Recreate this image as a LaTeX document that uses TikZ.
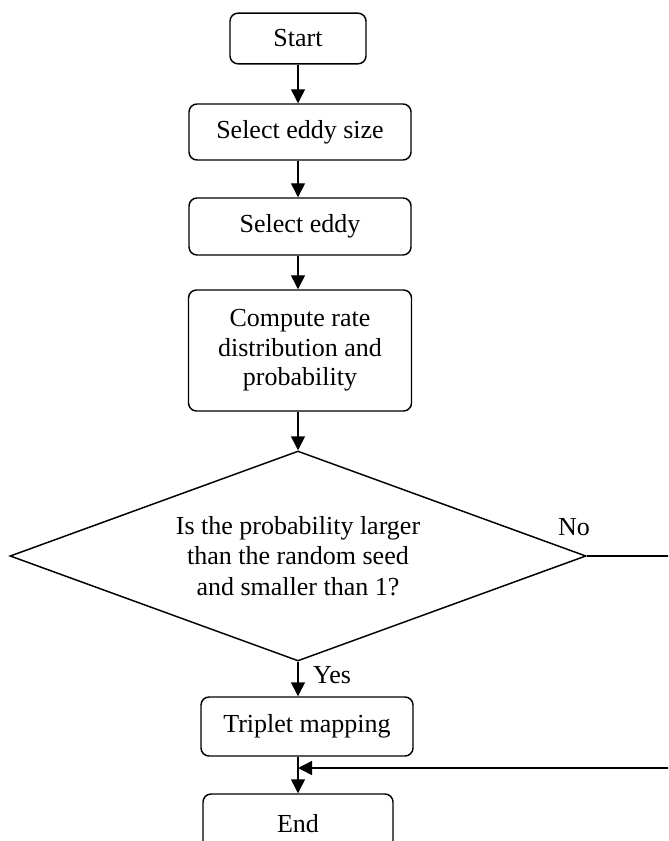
\documentclass[tikz,border=0pt]{standalone}
\usepackage{fontspec}
\setmainfont{Liberation Serif}
\usetikzlibrary{shapes.geometric,arrows.meta}
\begin{document}
\begin{tikzpicture}
[x=0.75pt, y=-0.75pt, line width=1.1pt,
 font=\fontsize{19.5}{22}\selectfont,
 box/.style={draw, rounded corners=6pt, align=center, inner sep=0pt},
 link/.style={-{Triangle[length=10.5pt,width=10.5pt]}}]
\useasboundingbox (0,0) rectangle (668,841);
\clip (0,0) rectangle (668,841);
% boxes, top to bottom
\node [box, minimum width=102pt, minimum height=38pt] (start) at (298,38.5) {Start};
\node [box, minimum width=166.5pt, minimum height=42pt] (size) at (300,132) {Select eddy size};
\node [box, minimum width=166.5pt, minimum height=42.75pt] (eddy) at (300,226.5) {Select eddy};
\node [box, minimum width=167.25pt, minimum height=90.75pt] (rate) at (300,350.5) {Compute rate\\distribution and\\probability};
\node [draw, diamond, aspect=2.75, minimum width=432pt, minimum height=157.5pt, inner sep=0pt, align=center, font=\fontsize{19.5}{23}\selectfont] (test) at (298,556) {Is the probability larger\\than the random seed\\and smaller than 1?};
\node [box, minimum width=159pt, minimum height=44.25pt] (map) at (307,726.5) {Triplet mapping};
\node [box, minimum width=142.5pt, minimum height=45pt] (end) at (298,824) {End};
\node (no) at (574,527) {No};
\node (yes) at (332,675) {Yes};
\coordinate (join) at (298,768);
% arrows
\draw [link] (start.south) -- (start.south |- size.north);
\draw [link] (start.south |- size.south) -- (start.south |- eddy.north);
\draw [link] (start.south |- eddy.south) -- (start.south |- rate.north);
\draw [link] (test.north |- rate.south) -- (test.north);
\draw [link] (test.south) -- (test.south |- map.north);
\draw [link] (join |- map.south) -- (join |- end.north);
\draw [link] (test.east) -- ++(113,0) |- (join);
\end{tikzpicture}
\end{document}
